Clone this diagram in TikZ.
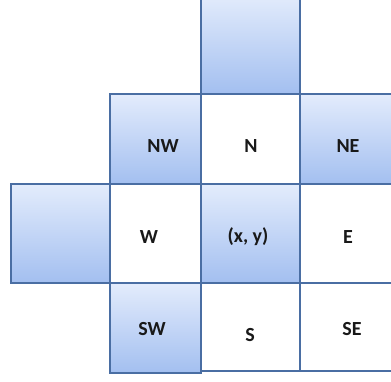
\documentclass[tikz,border=0pt]{standalone}
\usepackage{fontspec}
\setmainfont{Carlito}
\definecolor{cellline}{HTML}{4A6EA3}
\definecolor{celltop}{HTML}{E3ECFC}
\definecolor{cellbot}{HTML}{A3BFF0}
\tikzset{
  cell/.style 2 args={draw=cellline,line width=1.8pt,inner sep=0pt,outer sep=0pt,
    minimum width=#1,minimum height=#2},
  bluecell/.style 2 args={cell={#1}{#2},top color=celltop,bottom color=cellbot},
  whitecell/.style 2 args={cell={#1}{#2},fill=white},
  tag/.style={font=\fontsize{20}{23}\selectfont\bfseries,text=black!90}
}
\begin{document}
\begin{tikzpicture}[x=1pt,y=-1pt]
    \clip (0,0) rectangle (391,381);
    % cells
    \node[bluecell={99pt}{100pt}] (top) at (250.5,44) {};
    \node[bluecell={91pt}{90pt}] (nw) at (155.5,139) {};
    \node[whitecell={99pt}{90pt}] (n) at (250.5,139) {};
    \node[bluecell={100pt}{90pt}] (ne) at (350,139) {};
    \node[bluecell={99pt}{99pt}] (far) at (60.5,233.5) {};
    \node[whitecell={91pt}{99pt}] (w) at (155.5,233.5) {};
    \node[bluecell={99pt}{99pt}] (xy) at (250.5,233.5) {};
    \node[whitecell={100pt}{99pt}] (e) at (350,233.5) {};
    \node[bluecell={91pt}{90pt}] (sw) at (155.5,328) {};
    \node[whitecell={99pt}{88pt}] (s) at (250.5,327) {};
    \node[whitecell={100pt}{88pt}] (se) at (350,327) {};
    % labels
    \node[tag] (nwtag) at (163,146) {NW};
    \node[tag] (ntag) at (251,146) {N};
    \node[tag] (netag) at (348,146) {NE};
    \node[tag] (wtag) at (149,237) {W};
    \node[tag] (xytag) at (248,237) {(x, y)};
    \node[tag] (etag) at (348,237) {E};
    \node[tag] (swtag) at (152,329) {SW};
    \node[tag] (stag) at (250,335) {S};
    \node[tag] (setag) at (352,329) {SE};
\end{tikzpicture}
\end{document}
